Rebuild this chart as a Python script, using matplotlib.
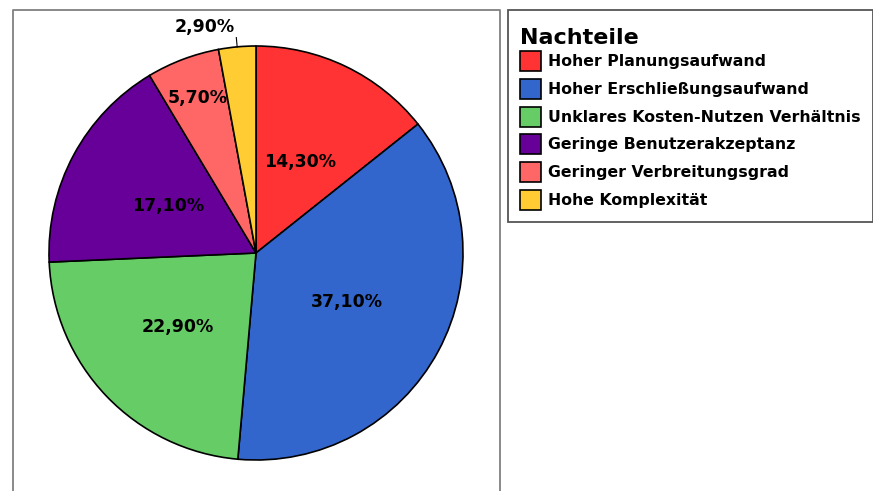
import numpy as np
import matplotlib.pyplot as plt
from matplotlib.patches import Rectangle

plt.rcParams['font.family'] = ['DejaVu Sans']

# data
categories = ['Hoher Planungsaufwand', 'Hoher Erschließungsaufwand',
              'Unklares Kosten-Nutzen Verhältnis', 'Geringe Benutzerakzeptanz',
              'Geringer Verbreitungsgrad', 'Hohe Komplexität']
shares = [14.3, 37.1, 22.9, 17.1, 5.7, 2.9]
labels = ['14,30%', '37,10%', '22,90%', '17,10%', '5,70%', '2,90%']
colors = ['#FF3333', '#3366CC', '#66CC66', '#660099', '#FF6666', '#FFCC33']
legend_title = 'Nachteile'

# label distance from centre (fraction of radius), last one goes outside
label_r = [0.49, 0.5, 0.52, 0.48, 0.8, None]

W, H = 873, 491
fig = plt.figure(figsize=(W / 100, H / 100), dpi=100)

# background axes in pixel coords for frames and legend
bg = fig.add_axes([0, 0, 1, 1])
bg.set_xlim(0, W)
bg.set_ylim(H, 0)
bg.axis('off')

# plot frame (bottom runs off the image)
bg.plot([12.5, 12.5, 499.5, 499.5], [H + 2, 9.5, 9.5, H + 2], color='#808080', lw=1.3)
# legend frame
bg.add_patch(Rectangle((507.5, 9.5), 365, 212, fill=False, ec='#555555', lw=1.3))

# pie
cx, cy, R = 256, 253, 207
ax = fig.add_axes([(cx - R) / W, (H - cy - R) / H, 2 * R / W, 2 * R / H])
wedges, _ = ax.pie(shares, colors=colors, startangle=90, counterclock=False,
                   wedgeprops=dict(edgecolor='black', linewidth=1.2))
ax.set_xlim(-1, 1)
ax.set_ylim(-1, 1)
ax.set_aspect('equal')
ax.axis('off')

for w, lab, r in zip(wedges, labels, label_r):
    mid = np.deg2rad((w.theta1 + w.theta2) / 2)
    if r is not None:
        ax.text(r * np.cos(mid), r * np.sin(mid), lab, ha='center', va='center',
                fontsize=12.5, fontweight='bold')
    else:
        ax.plot([np.cos(mid), 1.045 * np.cos(mid)], [np.sin(mid), 1.045 * np.sin(mid)],
                color='black', lw=0.8, clip_on=False)
        ax.text(1.09 * np.cos(mid) - 0.15, 1.09, lab, ha='center', va='center',
                fontsize=12.5, fontweight='bold', clip_on=False)

# legend
bg.text(520, 44, legend_title, fontsize=16, fontweight='bold', va='baseline', ha='left')
for i, (cat, col) in enumerate(zip(categories, colors)):
    yc = 61 + i * 27.8
    bg.add_patch(Rectangle((519.5, yc - 10), 21, 20, fc=col, ec='black', lw=1.2))
    bg.text(548, yc + 0.5, cat, fontsize=11.3, fontweight='bold', va='center', ha='left')

fig.savefig('out.png', dpi=100)
